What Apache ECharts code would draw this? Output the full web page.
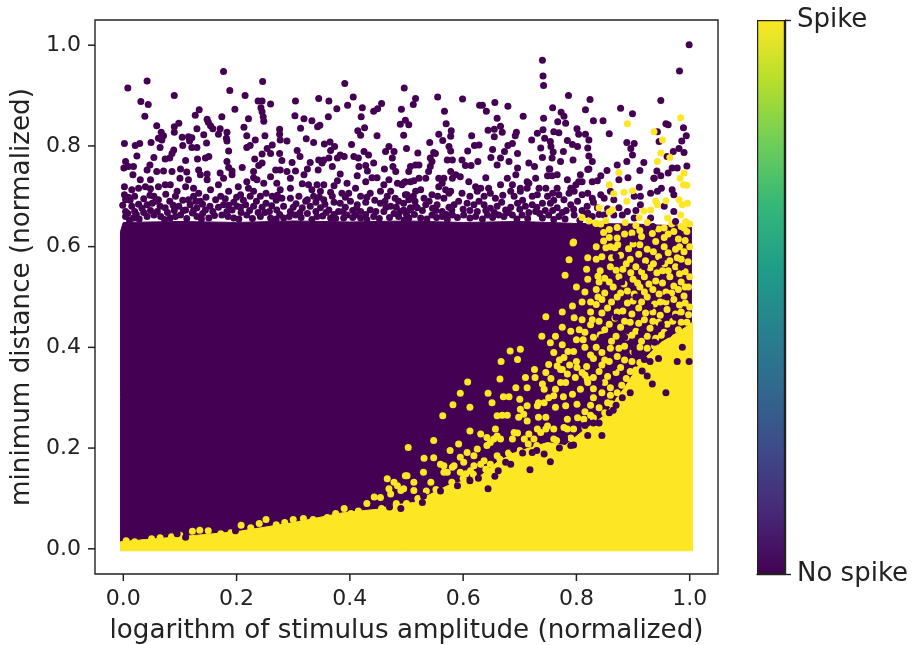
<!DOCTYPE html>
<html><head><meta charset="utf-8">
<style>html,body{margin:0;padding:0;background:#fff}#c{width:912px;height:645px}</style>
<script src="https://cdn.jsdelivr.net/npm/echarts@6/dist/echarts.min.js"></script>
</head><body><div id="c"></div>
<script>
const xTicks=[0,0.2,0.4,0.6,0.8,1.0];
const yTicks=[0,0.2,0.4,0.6,0.8,1.0];
const colorbarLabels=['No spike','Spike'];
const viridis=['#440154','#482878','#3e4989','#31688e','#26828e','#1f9e89','#35b779','#6ece58','#b5de2b','#fde725'];
// outline of the region where no-spike points merge into a solid mass
const noSpikeMass=[[-0.005,0.012],[-0.005,0.3],[-0.005,0.63],[0,0.648],[0.1,0.65],[0.2,0.648],[0.3,0.651],[0.4,0.649],[0.5,0.651],[0.6,0.648],[0.7,0.65],[0.8,0.646],[0.9,0.645],[1.003,0.64],[1.003,0.012]];
// outline of the region where spike points merge into a solid mass
const spikeMass=[[-0.005,-0.004],[-0.005,0.014],[0.1,0.024],[0.2,0.034],[0.3,0.052],[0.39,0.072],[0.454,0.079],[0.472,0.086],[0.513,0.092],[0.572,0.125],[0.631,0.145],[0.66,0.172],[0.69,0.191],[0.749,0.211],[0.78,0.205],[0.807,0.23],[0.85,0.265],[0.885,0.32],[0.913,0.37],[0.95,0.41],[0.98,0.43],[1.005,0.45],[1.005,-0.004]];
const noSpikePoints=[[.008,.915],[.042,.929],[.09,.9],[.031,.888],[.044,.882],[.038,.859],[.177,.948],[.188,.91],[.246,.928],[.215,.9],[.238,.889],[.245,.889],[.26,.883],[.243,.876],[.245,.868],[.247,.858],[.248,.849],[.197,.873],[.134,.872],[.127,.861],[.174,.858],[.221,.854],[.098,.845],[.09,.838],[.09,.827],[.059,.84],[.148,.853],[.15,.847],[.154,.84],[.158,.834],[.13,.834],[.171,.834],[.168,.823],[.183,.827],[.213,.837],[.276,.833],[.276,.823],[.277,.812],[.289,.81],[.25,.82],[.304,.889],[.345,.894],[.363,.889],[.377,.874],[.303,.86],[.319,.854],[.333,.85],[.343,.838],[.347,.841],[.362,.858],[.313,.835],[.391,.924],[.406,.897],[.396,.881],[.422,.876],[.42,.858],[.442,.869],[.449,.874],[.456,.884],[.496,.915],[.491,.873],[.489,.843],[.498,.851],[.504,.842],[.495,.821],[.5,.795],[.426,.836],[.414,.83],[.419,.821],[.448,.82],[.323,.814],[.336,.807],[.355,.804],[.365,.808],[.373,.799],[.366,.791],[.403,.803],
[.999,1.001],[.982,.949],[.74,.97],[.741,.939],[.742,.92],[.786,.9],[.824,.892],[.878,.875],[.899,.864],[.949,.89],[.816,.872],[.773,.867],[.778,.859],[.758,.876],[.742,.855],[.706,.859],[.679,.879],[.656,.886],[.641,.869],[.629,.881],[.634,.881],[.599,.893],[.555,.897],[.567,.869],[.516,.894],[.512,.882],[.57,.844],[.66,.855],[.666,.839],[.655,.833],[.644,.831],[.669,.827],[.655,.818],[.579,.83],[.578,.819],[.557,.823],[.564,.811],[.541,.807],[.52,.786],[.615,.82],[.628,.802],[.62,.801],[.694,.827],[.692,.82],[.687,.805],[.679,.801],[.673,.789],[.652,.793],[.649,.777],[.696,.785],[.608,.79],[.575,.799],[.578,.79],[.548,.787],[.542,.776],[.572,.772],[.581,.772],[.598,.772],[.604,.761],[.614,.761],[.626,.769],[.66,.762],[.666,.776],[.681,.769],[.741,.832],[.731,.825],[.721,.812],[.744,.815],[.76,.828],[.769,.826],[.767,.848],[.781,.845],[.801,.834],[.804,.823],[.816,.823],[.822,.812],[.82,.796],[.83,.85],[.847,.85],[.858,.824],[.784,.811],[.793,.803],[.802,.799],[.754,.809],[.755,.799],[.737,.796],[.74,.777],[.759,.788],[.757,.776],[.777,.789],[.772,.769],[.794,.772],[.822,.78],[.828,.769],[.82,.753],[.716,.766],[.726,.759],[.752,.754],[.766,.743],[.889,.807],[.896,.795],[.902,.805],[.899,.782],[.889,.769],[.872,.762],[.854,.751],[.919,.767],[.912,.751],[.943,.828],[.946,.809],[.958,.844],[.962,.842],[.989,.836],[.994,.82],[.986,.81],[.981,.795],[.971,.789],[.99,.787],[.995,.76],[.978,.756],[.969,.756],[.962,.746],[.942,.75],[.937,.736],[.949,.741],[.96,.779],
[.002,.805],[.021,.801],[.029,.805],[.049,.807],[.065,.797],[.105,.801],[.121,.797],[.13,.797],[.147,.806],[.183,.81],[.182,.815],[.067,.827],[.071,.82],[.062,.815],[.068,.812],[.104,.817],[.115,.818],[.121,.816],[.117,.81],[.142,.822],[.186,.79],[.089,.792],[.086,.785],[.082,.776],[.074,.774],[.054,.777],[.024,.78],[.004,.769],[.001,.756],[.009,.759],[.018,.759],[.017,.743],[.047,.762],[.042,.752],[.11,.771],[.131,.774],[.145,.776],[.151,.779],[.232,.774],[.218,.797],[.224,.801],[.233,.812],[.218,.82],[.254,.795],[.263,.802],[.245,.784],[.26,.785],[.276,.785],[.307,.791],[.312,.779],[.298,.767],[.28,.771],[.245,.766],[.239,.761],[.183,.769],[.186,.757],[.192,.75],[.21,.757],[.33,.767],[.345,.772],[.354,.772],[.363,.776],[.369,.759],[.378,.776],[.383,.782],[.39,.779],[.407,.779],[.415,.776],[.425,.789],[.433,.782],[.442,.766],[.428,.761],[.431,.75],[.416,.759],[.461,.754],[.463,.789],[.469,.799],[.478,.789],[.475,.776],[.476,.759],[.481,.749],[.413,.741],
[.03,.733],[.048,.733],[.059,.749],[.071,.75],[.086,.749],[.101,.754],[.112,.748],[.133,.752],[.136,.743],[.148,.744],[.148,.733],[.171,.746],[.177,.736],[.192,.743],[.23,.749],[.23,.737],[.248,.726],[.26,.739],[.269,.752],[.277,.752],[.289,.749],[.295,.736],[.304,.75],[.319,.743],[.325,.754],[.344,.752],[.351,.766],[.383,.744],[.378,.731],[.395,.726],[.428,.729],[.439,.737],[.448,.737],[.46,.723],[.469,.733],[.484,.726],[.495,.727],[.507,.729],
[.002,.719],[.015,.713],[.027,.716],[.039,.719],[.062,.719],[.074,.723],[.083,.723],[.048,.715],[.095,.71],[.1,.736],[.115,.733],[.11,.719],[.124,.716],[.154,.713],[.168,.723],[.186,.71],[.203,.719],[.218,.729],[.221,.716],[.236,.733],[.23,.71],[.271,.726],[.277,.713],[.295,.716],[.316,.725],[.327,.723],[.342,.723],[.354,.723],[.333,.713],[.348,.71],[.369,.7],[.372,.721],[.386,.706],[.41,.716],[.398,.706],
[.002,.703],[.004,.693],[.009,.698],[.036,.695],[.054,.7],[.062,.693],[.133,.706],[.124,.7],[.115,.693],[.136,.69],[.163,.693],[.207,.703],[.224,.7],[.242,.7],[.263,.7],[.28,.696],[.295,.696],[.31,.7],[.325,.693],[.336,.7],[.354,.693],[.419,.7],[.436,.706],[.454,.71],[.472,.71],[.498,.703],[.486,.69],[.504,.693],[.383,.686],[.401,.69],[.413,.683],
[-.001,.682],[.004,.67],[.015,.68],[.027,.684],[.042,.683],[.051,.686],[.065,.68],[.074,.677],[.098,.68],[.11,.673],[.118,.683],[.13,.677],[.145,.673],[.153,.68],[.177,.683],[.192,.673],[.201,.68],[.216,.683],[.23,.68],[.245,.678],[.271,.673],[.283,.68],[.295,.67],[.316,.677],[.33,.68],[.348,.677],[.363,.673],[.38,.67],[.395,.663],[.419,.67],[.436,.673],[.454,.686],[.472,.68],[.489,.67],[.507,.677],
[.004,.66],[.018,.657],[.042,.66],[.054,.663],[.083,.657],[.101,.663],[.13,.66],[.151,.657],[.174,.663],[.195,.657],[.218,.663],[.242,.66],[.26,.657],[.283,.657],[.304,.663],[.342,.66],[.366,.657],[.389,.657],[.419,.657],[.442,.66],[.46,.67],[.486,.66],[.504,.657],
[.507,.759],[.516,.762],[.522,.762],[.504,.749],[.539,.749],[.545,.769],[.542,.759],[.551,.785],[.534,.736],[.522,.736],[.513,.731],[.498,.729],[.557,.736],[.566,.736],[.578,.749],[.587,.743],[.581,.736],[.595,.739],[.61,.729],[.563,.726],[.64,.737],[.678,.736],[.693,.743],[.696,.756],[.713,.729],[.728,.736],[.749,.741],[.757,.741],[.753,.754],[.784,.733],[.807,.743],[.804,.729],[.822,.754],[.843,.741],[.837,.731],
[.492,.723],[.525,.713],[.516,.71],[.557,.719],[.569,.713],[.578,.71],[.622,.719],[.631,.716],[.645,.716],[.666,.723],[.687,.723],[.701,.716],[.716,.726],[.734,.716],[.746,.716],[.766,.716],[.79,.716],[.799,.723],[.81,.729],[.828,.729],[.875,.733],[.891,.737],[.911,.718],[.937,.736],[.95,.716],[.969,.713],
[.501,.703],[.531,.696],[.545,.703],[.566,.696],[.575,.706],[.625,.71],[.637,.7],[.657,.696],[.684,.71],[.69,.7],[.701,.71],[.713,.716],[.731,.703],[.749,.7],[.769,.703],[.787,.706],[.796,.71],[.778,.693],[.81,.703],[.843,.703],[.849,.696],[.828,.696],[.866,.693],[.902,.7],[.913,.7],[.931,.706],[.943,.71],[.972,.703],
[.495,.673],[.507,.673],[.519,.677],[.534,.683],[.554,.683],[.563,.67],[.584,.683],[.607,.686],[.619,.683],[.637,.683],[.66,.68],[.675,.673],[.696,.686],[.71,.68],[.722,.683],[.74,.686],[.754,.686],[.766,.677],[.79,.683],[.819,.68],[.837,.677],[.866,.663],[.89,.67],[.875,.677],[.913,.683],[.955,.68],[.972,.67],
[.504,.657],[.525,.657],[.545,.663],[.563,.66],[.581,.663],[.601,.663],[.625,.67],[.643,.663],[.663,.663],[.687,.663],[.704,.663],[.728,.67],[.751,.663],[.769,.66],[.796,.663],[.828,.66],[.849,.663],[.881,.663],[.902,.657],[.931,.657],
[.012,.692],[.02,.67],[.033,.676],[.058,.69],[.082,.69],[.09,.672],[.105,.692],[.128,.69],[.14,.684],[.168,.678],[.18,.695],[.195,.688],[.212,.692],[.235,.69],[.252,.686],[.262,.681],[.27,.692],[.305,.685],[.322,.69],[.34,.688],[.356,.684],[.372,.688],[.392,.678],[.405,.672],[.428,.688],[.444,.692],[.462,.69],[.48,.696],[.495,.686],[.515,.69],[.54,.69],[.552,.672],[.575,.678],[.592,.69],[.612,.672],[.628,.69],[.648,.676],[.668,.688],[.684,.678],[.705,.692],[.73,.678],[.745,.672],[.76,.692],[.782,.672],[.802,.69],[.81,.672],[.83,.688],[.855,.675],[.905,.672],
[.011,.652],[.028,.655],[.036,.668],[.066,.66],[.073,.654],[.092,.66],[.112,.656],[.122,.667],[.138,.655],[.161,.662],[.185,.66],[.204,.655],[.208,.668],[.228,.656],[.25,.668],[.27,.655],[.293,.66],[.314,.658],[.325,.666],[.333,.654],[.352,.661],[.375,.656],[.405,.658],[.41,.663],[.43,.654],[.452,.656],[.47,.658],[.478,.666],[.496,.653],[.514,.664],[.536,.655],[.553,.658],[.572,.654],[.59,.658],[.612,.657],[.634,.655],[.652,.658],[.672,.66],[.695,.655],[.714,.656],[.74,.657],[.76,.654],[.78,.655],[.806,.652],[.817,.664],
[.008,.666],[.023,.664],[.048,.672],[.06,.67],[.078,.668],[.088,.682],[.106,.672],[.124,.672],[.14,.666],[.158,.67],[.183,.67],[.186,.682],[.207,.678],[.223,.672],[.238,.668],[.258,.67],[.276,.664],[.3,.678],[.312,.668],[.34,.67],[.358,.668],[.372,.664],[.388,.67],[.412,.676],[.428,.664],[.446,.67],[.464,.678],[.482,.678],[.5,.664],[.516,.68],[.528,.672],[.546,.676],[.57,.664],[.58,.673],[.6,.674],[.622,.66],[.64,.672],[.655,.668],[.68,.668],[.7,.674],[.716,.668],[.735,.666],[.758,.672],[.775,.668],[.795,.674],[.82,.667],[.84,.664],[.02,.7],[.047,.702],[.075,.704],[.092,.7],[.146,.698],[.172,.7],[.2,.698],[.252,.706],[.272,.702],[.346,.698],[.366,.708],[.392,.698],[.43,.698],[.466,.7],[.512,.7],[.555,.7],[.598,.706],[.612,.7],[.648,.706],[.67,.702],[.722,.7],[.758,.706],[.82,.706],[.86,.71]];
const spikePoints=[[.984,.856],[.89,.844],[.937,.828],[.952,.812],[.949,.786],[.943,.769],[.965,.777],[.875,.747],[.99,.746],[.983,.736],[.989,.723],[.995,.722],[.858,.723],[.866,.705],[.884,.708],[.899,.711],[.889,.69],[.84,.677],[.863,.673],[.858,.669],[.94,.69],[.943,.683],[.931,.673],[.958,.691],[.961,.657],[.981,.693],[.987,.683],[.996,.686],[.984,.663],[.993,.65],[.99,.637],[.955,.637],[.911,.658],[.919,.671],[.81,.658],[.822,.651],[.835,.646],[.794,.607],[.848,.611],[.872,.617],[.898,.627],
[.701,.396],[.683,.393],[.667,.372],[.696,.376],[.665,.337],[.608,.331],[.595,.309],[.582,.286],[.612,.281],[.564,.264],[.644,.309],[.651,.29],[.66,.264],[.669,.265],[.678,.265],[.671,.302],[.681,.302],[.7,.297],[.693,.32],[.713,.32],[.71,.34],[.726,.356],[.727,.34],[.746,.35],[.755,.338],[.751,.366],[.778,.38],[.766,.363],[.775,.356],[.784,.347],[.801,.36],[.798,.34],[.781,.33],[.763,.317],[.743,.317],[.74,.327],[.751,.3],[.777,.302],[.733,.29],[.763,.281],[.781,.284],[.746,.261],[.733,.261],[.701,.277],[.707,.267],[.698,.261],[.713,.254],[.793,.307],[.801,.287],[.795,.238],[.778,.241],[.76,.238],[.746,.238],[.731,.238],
[.612,.234],[.631,.228],[.642,.221],[.657,.238],[.648,.211],[.654,.218],[.696,.23],[.708,.218],[.716,.228],[.548,.215],[.503,.201],[.592,.208],[.577,.195],[.607,.191],[.619,.185],[.637,.175],[.631,.168],[.595,.182],[.531,.18],[.548,.181],[.566,.165],[.581,.162],[.613,.155],[.605,.149],[.498,.145],[.466,.139],[.484,.125],[.513,.116],[.495,.119],[.469,.119],[.572,.152],
[.454,.102],[.472,.109],[.49,.116],[.478,.132],[.501,.145],[.513,.132],[.53,.152],[.543,.132],[.56,.168],[.566,.152],[.584,.165],[.595,.152],[.601,.172],[.619,.165],[.625,.198],[.642,.205],[.66,.224],[.666,.218],[.687,.218],[.66,.185],[.69,.231],[.737,.231],[.749,.244],[.76,.218],[.784,.238],[.725,.218],[.784,.257],[.731,.284],[.743,.29],[.713,.284],[.76,.304],[.772,.33],[.807,.317],[.813,.257],[.819,.337],
[.795,.609],[.82,.578],[.78,.543],[.787,.574],[.82,.535],[.838,.541],[.858,.634],[.834,.647],[.793,.482],[.796,.459],[.746,.461],[.79,.432],[.763,.422],[.739,.422],[.754,.409],[.772,.356],
[.843,.645],[.872,.638],[.905,.642],[.925,.648],[.945,.635],[.968,.645],[.985,.64],[.995,.63],[.858,.618],[.885,.625],[.915,.62],[.94,.61],[.962,.625],[.98,.615],[.992,.612],[.868,.598],[.9,.605],[.925,.595],[.955,.6],[.975,.595],[.99,.59],[.835,.6],[.845,.58],[.878,.583],[.895,.575],[.91,.585],[.945,.58],[.965,.572],[.985,.575],[.997,.57],[.86,.56],[.882,.555],[.905,.56],[.93,.558],[.952,.552],[.975,.56],[.992,.55],[.85,.537],[.875,.54],[.9,.535],[.92,.54],[.94,.532],[.965,.54],[.985,.53],[.835,.515],[.865,.52],[.89,.512],[.912,.52],[.935,.515],[.958,.51],[.98,.515],[.998,.52],[.845,.495],[.872,.5],[.9,.492],[.925,.5],[.948,.49],[.972,.495],[.992,.488],[.825,.47],[.855,.478],[.882,.472],[.91,.478],[.935,.47],[.96,.475],[.985,.47],[.84,.452],[.868,.458],[.895,.45],[.92,.455],[.945,.45],[.97,.452],[.995,.45],[.815,.43],[.85,.435],[.878,.44],[.905,.432],[.93,.438],[.955,.43],[.98,.435],[.8,.415],[.83,.42],[.862,.412],[.888,.42],[.915,.412],[.94,.418],[.965,.41],[.99,.415],[.785,.392],[.815,.4],[.845,.39],[.875,.398],[.9,.392],[.925,.398],[.95,.39],[.975,.395],[.997,.39],[.77,.375],[.8,.372],[.83,.378],[.858,.372],[.885,.375],[.912,.37],[.94,.375],[.965,.37],[.988,.375],[.81,.35],[.84,.352],[.87,.35],[.895,.352],[.92,.345],[.95,.35],[.975,.345],[.82,.33],[.85,.33],[.88,.325],[.91,.33],[.935,.325],[.96,.325],[.99,.33],[.83,.3],[.86,.305],[.89,.3],[.92,.3],[.945,.3],[.97,.3],[.815,.272],[.84,.28],[.87,.275],[.9,.278],[.93,.275],[.955,.28],
[.852,.652],[.886,.648],[.912,.632],[.934,.626],[.955,.618],[.972,.63],[1.0,.645],[.848,.628],[.873,.604],[.892,.596],[.912,.604],[.936,.59],[.962,.588],[.982,.6],[1.0,.6],[.852,.598],[.862,.578],[.888,.566],[.922,.572],[.936,.566],[.956,.566],[.978,.578],[.87,.553],[.896,.548],[.915,.55],[.942,.548],[.962,.552],[.982,.546],[1.0,.54],[.842,.552],[.858,.53],[.884,.526],[.908,.528],[.928,.526],[.952,.528],[.972,.522],[.992,.52],[.85,.508],[.878,.508],[.902,.506],[.92,.51],[.946,.506],[.968,.508],[.99,.502],[.835,.485],[.862,.49],[.89,.488],[.915,.49],[.938,.486],[.958,.49],[.982,.484],[1.0,.48],[.845,.468],[.872,.47],[.898,.466],[.922,.468],[.948,.464],[.975,.466],[.998,.465],[.825,.445],[.858,.446],[.885,.452],[.91,.448],[.935,.452],[.96,.446],[.985,.45],[.842,.425],[.87,.422],[.898,.424],[.925,.422],[.95,.424],[.975,.42],[1.0,.425],[.812,.415],[.835,.4],[.86,.398],[.885,.402],[.912,.4],[.938,.402],[.962,.4],[.988,.4],[.795,.392],[.825,.385],[.85,.375],[.872,.382],[.898,.372],[.925,.375],[.95,.372],[.978,.378],[.788,.365],[.818,.362],[.845,.365],[.878,.36],[.905,.355],[.815,.345],[.83,.34],[.855,.342],[.888,.338],[.83,.318],[.86,.32],[.845,.31],[.825,.285],[.855,.29],[.875,.295],[.825,.265],[.85,.27],[.802,.26],[.76,.39],[.775,.405],[.805,.435],[.775,.44],[.81,.455],[.828,.455],[.775,.47],[.81,.49],[.8,.52],[.825,.49],[.815,.51],[.838,.5],[.84,.53],[.818,.555],[.86,.6],[.835,.575],
[.005,.016],[.02,.014],[.035,.012],[.05,.02],[.065,.022],[.085,.024],[.1,.027],[.122,.035],[.135,.037],[.15,.036],[.172,.03],[.19,.032],[.208,.047],[.225,.042],[.24,.05],[.252,.058],[.27,.048],[.285,.052],[.3,.058],[.318,.06],[.335,.058],[.36,.062],[.375,.07],[.39,.08],[.402,.07],[.415,.075],[.43,.09],[.443,.103],[.456,.08],[.482,.09],[.5,.09],[.52,.1],[.535,.115],[.552,.118],[.58,.132],[.6,.14],[.618,.148],[.64,.158],[.648,.168],[.665,.178],[.68,.19],[.7,.195],[.715,.208],[.73,.205],[.765,.215],[.79,.22],[.815,.24],[.83,.26],[.862,.288],[.872,.31]];
// no-spike points visible on top of the solid spike mass
const noSpikeOnTop=[[.644,.119],[.528,.092],[.684,.168],[.718,.157],[.656,.144],[.795,.206],[.779,.219],[.754,.173],[.743,.188],[.722,.191],[.689,.198],[.934,.327],[.881,.3],[.925,.343],[.958,.31],[.916,.353],[.978,.372],[.999,.372],[.945,.378],[.92,.376],[.903,.39],[.93,.372],[.938,.41],[.962,.426],[.987,.4],[.83,.25],[.87,.285],[.845,.225],[.815,.245],[.895,.31],[.858,.27],[.915,.43],[.885,.42],[.95,.445],[.975,.46],[.84,.33],[.865,.36],[.9,.4],[.87,.46],[.93,.48],[.96,.5],[.905,.5],[.88,.53],[.92,.56],[.95,.57],[.985,.56],[.87,.58],[.9,.615],[.935,.64],[.975,.65],[.845,.42],
[.11,.023],[.095,.03],[.198,.036],[.47,.083],[.49,.08],[.53,.105],[.56,.115],[.59,.125],[.612,.135],[.627,.14],[.662,.155],[.675,.172],[.705,.19],[.73,.195],[.77,.2],[.79,.205],[.82,.225],[.84,.25],[.865,.275]];

const chart=echarts.init(document.getElementById('c'));
const lineCol='#222';
const axisLineStyle={lineStyle:{color:lineCol,width:1.4}};
const labelFont=()=>({color:lineCol,fontFamily:'DejaVu Sans',fontSize:22,margin:14,formatter:v=>v.toFixed(1)});
const nameFont={color:lineCol,fontFamily:'DejaVu Sans',fontSize:26.2};
const frame={left:95,top:20,width:623,height:554};
const tickLength=7;
function massSeries(outline,color){
  return {type:'custom',xAxisIndex:0,yAxisIndex:0,silent:true,animation:false,clip:false,data:outline,
    encode:{x:0,y:1},
    renderItem(params,api){
      if(params.dataIndex!==0)return null;
      return {type:'polygon',shape:{points:outline.map(p=>api.coord(p))},style:{fill:color,stroke:color,lineWidth:1}};
    }};
}
function dotSeries(points,color){
  return {type:'scatter',xAxisIndex:0,yAxisIndex:0,data:points,symbolSize:7,silent:true,animation:false,clip:false,progressive:0,
    itemStyle:{color:color,opacity:1}};
}
chart.setOption({
  animation:false,
  grid:[
    {left:123.3,top:45.2,width:566.4,height:503.6,outerBoundsMode:'none',show:false},
    {left:757,top:20,width:28,height:554,outerBoundsMode:'none',show:false},
    {...frame,outerBoundsMode:'none',show:true,borderColor:lineCol,borderWidth:1.4,backgroundColor:'transparent'}
  ],
  xAxis:[
    {type:'value',gridIndex:0,position:'bottom',offset:25.2,min:0,max:1,interval:0.2,splitLine:{show:false},
      axisLine:{show:false,onZero:false},axisTick:{show:false},axisLabel:labelFont(),
      name:'logarithm of stimulus amplitude (normalized)',nameLocation:'middle',nameGap:44,nameTextStyle:nameFont},
    {type:'category',gridIndex:1,data:['bar'],axisLine:{show:true,...axisLineStyle},axisTick:{show:false},axisLabel:{show:false},splitLine:{show:false}}
  ],
  yAxis:[
    {type:'value',gridIndex:0,position:'left',offset:28.3,min:0,max:1,interval:0.2,splitLine:{show:false},
      axisLine:{show:false,onZero:false},axisTick:{show:false},axisLabel:labelFont(),
      name:'minimum distance (normalized)',nameLocation:'middle',nameGap:54,nameTextStyle:nameFont},
    {type:'value',gridIndex:1,position:'right',min:0,max:1,interval:1,splitLine:{show:false},
      axisLine:{show:true,onZero:false,...axisLineStyle},axisTick:{show:true,length:6,lineStyle:{color:lineCol,width:1.4}},
      axisLabel:{formatter:v=>colorbarLabels[v],color:lineCol,fontFamily:'DejaVu Sans',fontSize:26,margin:12,padding:[6,0,0,0]}}
  ],
  series:[
    massSeries(noSpikeMass,viridis[0]),
    massSeries(spikeMass,viridis[9]),
    dotSeries(noSpikePoints,viridis[0]),
    dotSeries(spikePoints,viridis[9]),
    dotSeries(noSpikeOnTop,viridis[0]),
    {type:'bar',xAxisIndex:1,yAxisIndex:1,data:[1],barWidth:'100%',silent:true,animation:false,
      itemStyle:{borderColor:lineCol,borderWidth:1.2,color:new echarts.graphic.LinearGradient(0,1,0,0,viridis.map((c,i)=>({offset:i/(viridis.length-1),color:c})))}}
  ]
});
// tick marks: along-axis position comes from the axis scale, drawn on the frame's outer edge
const frameBottom=frame.top+frame.height;
const tickLine=(shape)=>({type:'line',silent:true,z:1000,shape,style:{stroke:lineCol,lineWidth:1.5}});
chart.setOption({graphic:{elements:[
  ...xTicks.map(v=>{const px=chart.convertToPixel({xAxisIndex:0},v);return tickLine({x1:px,y1:frameBottom,x2:px,y2:frameBottom+tickLength});}),
  ...yTicks.map(v=>{const py=chart.convertToPixel({yAxisIndex:0},v);return tickLine({x1:frame.left,y1:py,x2:frame.left-tickLength,y2:py});})
]}});
</script></body></html>
